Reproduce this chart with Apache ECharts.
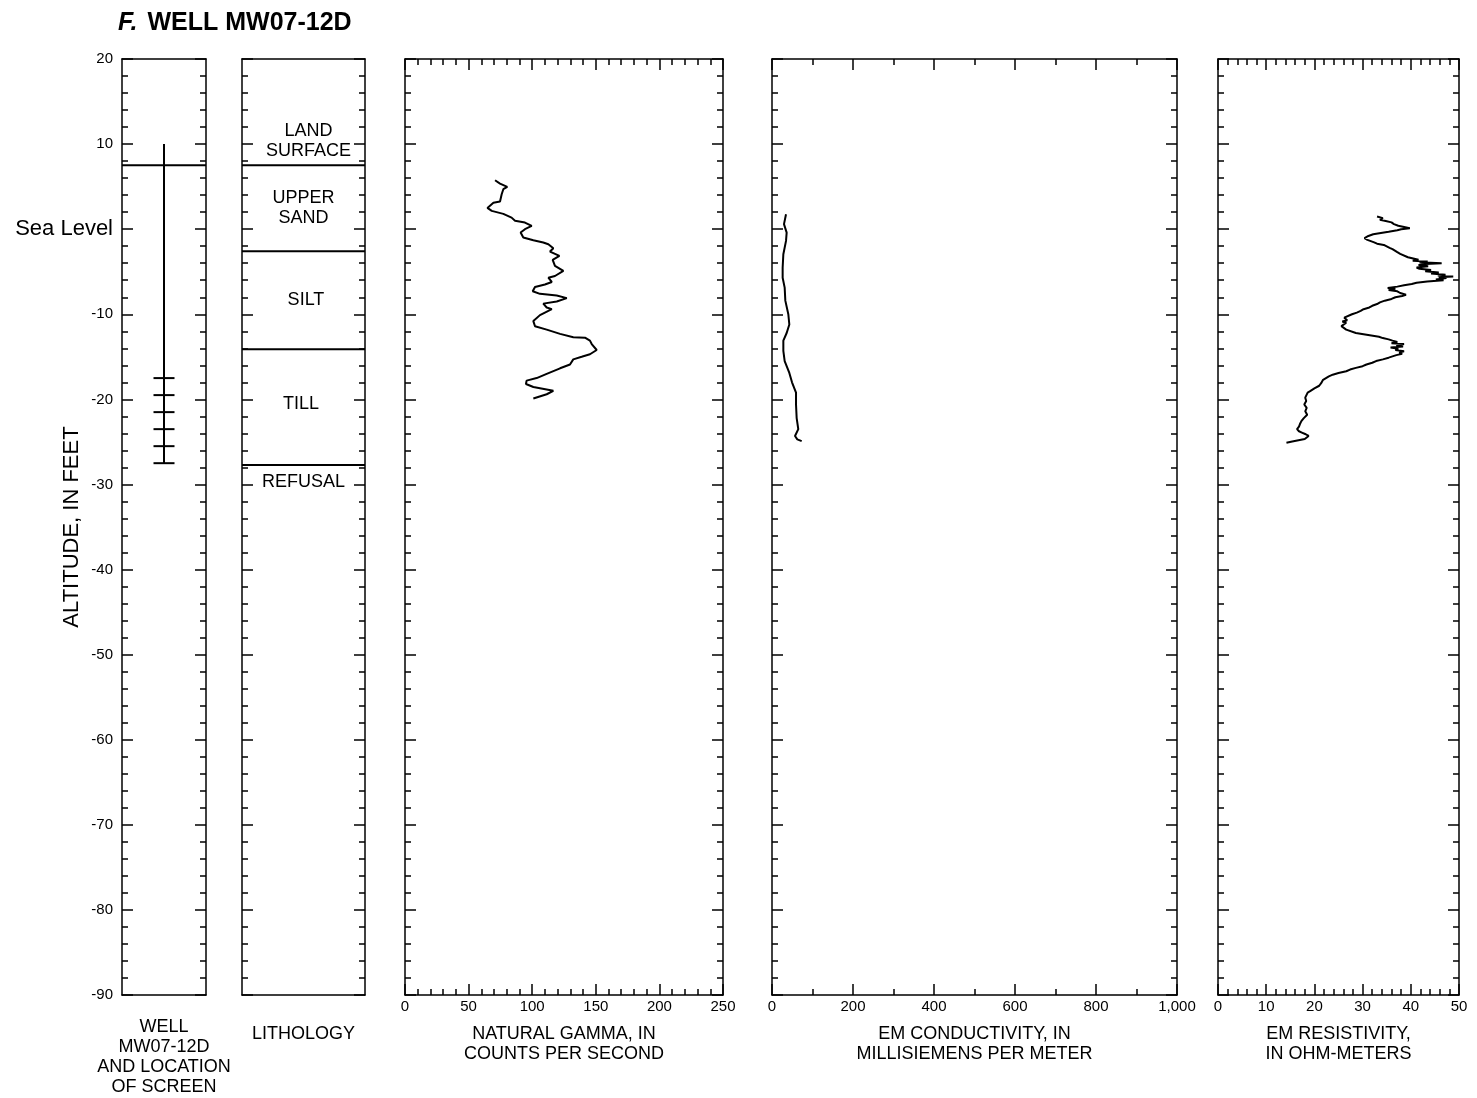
<!DOCTYPE html>
<html>
<head>
<meta charset="utf-8">
<script src="https://cdn.jsdelivr.net/npm/echarts@6/dist/echarts.min.js"></script>
<style>
  html, body { margin: 0; background: #fff; }
  #chart { width: 1477px; height: 1098px; }
</style>
</head>
<body>
<div id="chart"></div>
<script>
const FONT = 'Liberation Sans, Arial, sans-serif';

// altitude range (feet)
const altMin = -90;
const altMax = 20;

// well construction
const casingTop = 10;
const wellBottom = -27.5;
const landSurface = 7.5;
const screenMarks = [-17.5, -19.5, -21.5, -23.5, -25.5, -27.5];

// lithology
const lithBoundaries = [7.5, -2.6, -14.1, -27.7];
const lithNames = ['LAND\nSURFACE', 'UPPER\nSAND', 'SILT', 'TILL', 'REFUSAL'];
const lithLabelAlt = [10.4, 2.5, -8.3, -20.5, -29.7];
const lithLabelPos = [0.54, 0.5, 0.52, 0.48, 0.5];

// natural gamma, counts per second
const gammaAlt = [5.75, 5.36, 4.98, 4.7, 4.1, 3.25, 3.1, 2.5, 2.15, 1.8, 1.36, 0.98, 0.78, 0.39, 0, -0.4,
  -0.98, -1.3, -1.57, -1.77, -2.24, -2.63, -3.14, -3.6, -4.3, -4.9, -5.5, -5.7, -6.2, -6.5, -6.8, -7.3,
  -7.6, -7.8, -8.1, -8.5, -8.75, -9.2, -9.4, -9.8, -10.1, -10.8, -11.4, -11.8, -12.3, -12.7, -12.75,
  -13.1, -13.5, -14.2, -14.7, -15.0, -15.3, -15.9, -16.35, -17.0, -17.5, -17.8, -18.2, -18.55, -19.0,
  -19.4, -19.9];
const gammaCps = [70.8, 74.7, 80.4, 77.3, 76, 74.7, 69.5, 64.8, 68.2, 77.3, 83.8, 86.5, 94.3, 99.6, 94.3, 90.9,
  93, 100.9, 108.7, 112.7, 116.6, 114, 121.4, 116.1, 117.9, 124.5, 117.9, 112.7, 115.4, 110, 102.2, 100.4,
  106.1, 119.3, 127.2, 119.3, 108.7, 111.4, 115.4, 110, 106.1, 100.9, 102.2, 111.4, 121.9, 132.3, 141.5,
  145.4, 146.8, 150.7, 145.4, 138.9, 132.3, 129.7, 121.9, 111.4, 103.5, 95.6, 95.1, 100.9, 116.6,
  111.4, 100.9];

// EM conductivity, millisiemens per meter
const condAlt = [1.76, 0.59, -0.4, -1.38, -2.94, -4.5, -5.7, -6.87, -8.4, -10, -11.2, -12.2, -13.1, -14.3,
  -15.5, -16.9, -18.0, -19.2, -20.6, -22.2, -23.5, -24.3, -24.7, -24.9];
const condMsm = [34.6, 29.6, 36.2, 34.6, 28, 26.3, 26.3, 31.3, 32.9, 40.3, 42.8, 36.2, 28, 28,
  31.3, 42.8, 49.4, 59.3, 59.3, 60.9, 64.9, 56.8, 62.5, 73.3];

// EM resistivity, ohm-meters
const resAlt = [1.5, 1.3, 1.1, 0.95, 0.8, 0.6, 0.4, 0.25, 0.1, 0.0, -0.12, -0.3, -0.45, -0.6, -0.8, -1.05,
  -1.25, -1.4, -1.55, -1.7, -1.85, -2.0, -2.2, -2.35, -2.5, -2.7, -2.9, -3.1, -3.3, -3.45, -3.6, -3.7,
  -3.8, -3.9, -4.0, -4.1, -4.2, -4.35, -4.5, -4.65, -4.8, -4.95, -5.1, -5.2, -5.35, -5.45, -5.55, -5.65,
  -5.75, -5.9, -6.0, -6.15, -6.3, -6.45, -6.6, -6.75, -6.9, -7.0, -7.15, -7.3, -7.5, -7.7, -7.85, -8.0,
  -8.2, -8.4, -8.6, -8.8, -9.0, -9.2, -9.4, -9.6, -9.8, -10.0, -10.2, -10.4, -10.55, -10.7, -10.85, -11.0,
  -11.2, -11.4, -11.6, -11.8, -12.0, -12.2, -12.35, -12.5, -12.65, -12.8, -12.95, -13.1, -13.25, -13.4,
  -13.5, -13.65, -13.8, -13.9, -14.05, -14.2, -14.35, -14.5, -14.65, -14.8, -14.95, -15.1, -15.3, -15.5,
  -15.7, -15.9, -16.1, -16.3, -16.5, -16.7, -16.9, -17.1, -17.3, -17.5, -17.7, -17.9, -18.1, -18.4,
  -18.7, -19.0, -19.2, -19.4, -19.8, -20.2, -20.6, -21.0, -21.4, -21.8, -22.2, -22.55, -22.9, -23.2,
  -23.5, -23.75, -23.9, -24.1, -24.3, -24.5, -24.65, -24.8, -24.95, -25.1];
const resOhm = [33.0, 34.2, 33.6, 34.8, 36.0, 36.5, 37.4, 38.6, 39.8, 38.0, 37.2, 35.4, 33.8, 32.2, 31.2, 30.4,
  31.0, 30.8, 32.4, 33.0, 34.4, 34.0, 35.6, 36.2, 35.8, 37.2, 37.8, 38.2, 39.4, 39.8, 41.6, 40.4,
  43.5, 41.8, 46.4, 43.0, 41.6, 43.6, 41.2, 41.8, 44.2, 43.0, 45.8, 44.2, 47.2, 45.6, 48.8, 45.8,
  47.4, 45.2, 46.8, 43.4, 41.2, 40.2, 38.6, 37.2, 35.2, 36.8, 35.4, 37.2, 37.8, 39.0, 38.2, 36.8,
  36.0, 34.6, 33.6, 33.0, 32.0, 31.4, 30.2, 29.6, 28.8, 27.8, 27.4, 26.2, 26.0, 26.8, 25.8, 26.6,
  26.8, 25.6, 25.8, 26.6, 27.0, 28.6, 30.2, 31.8, 33.4, 34.2, 35.4, 36.2, 37.2, 36.0,
  38.6, 37.0, 38.4, 35.8, 37.4, 36.8, 38.6, 37.6, 38.2, 37.0, 36.2, 35.4, 34.2, 32.8,
  32.0, 30.8, 30.0, 28.6, 27.4, 26.6, 25.0, 23.8, 23.0, 22.4, 21.8, 21.4, 21.4, 21.0,
  20.0, 19.2, 18.6, 18.2, 18.1, 18.3, 17.9, 18.4, 18.1, 18.5, 17.8, 17.3, 17.0, 16.8,
  16.4, 16.8, 17.4, 18.2, 18.8, 19.1, 18.0, 16.7, 15.4, 14.2];

// panels: left, width (px) and x scale
const panels = [
  { left: 122, width: 84, min: 0, max: 1, interval: null, minor: 0,
    name: 'WELL\nMW07-12D\nAND LOCATION\nOF SCREEN', gap: 22 },
  { left: 242, width: 123, min: 0, max: 1, interval: null, minor: 0, name: 'LITHOLOGY', gap: 29 },
  { left: 405, width: 318, min: 0, max: 250, interval: 50, minor: 5,
    name: 'NATURAL GAMMA, IN\nCOUNTS PER SECOND', gap: 29 },
  { left: 772, width: 405, min: 0, max: 1000, interval: 200, minor: 2,
    name: 'EM CONDUCTIVITY, IN\nMILLISIEMENS PER METER', gap: 29 },
  { left: 1218, width: 241, min: 0, max: 50, interval: 10, minor: 5,
    name: 'EM RESISTIVITY,\nIN OHM-METERS', gap: 29 },
];

const black = { color: '#000', width: 1.5 };

function xAxisFor(p, i, top) {
  const scaled = p.interval != null;
  return {
    type: 'value', gridIndex: i, position: top ? 'top' : 'bottom',
    min: p.min, max: p.max, interval: scaled ? p.interval : undefined,
    axisLine: { show: true, onZero: false, lineStyle: black },
    axisTick: { show: scaled, inside: true, length: 11, lineStyle: black },
    minorTick: { show: scaled, splitNumber: p.minor, length: 6, lineStyle: black },
    axisLabel: {
      show: scaled && !top, margin: 4, color: '#000', fontFamily: FONT, fontSize: 15,
      showMinLabel: true, showMaxLabel: true,
      formatter: v => v.toLocaleString('en-US'),
    },
    splitLine: { show: false },
    name: top ? '' : p.name,
    nameLocation: 'middle', nameGap: p.gap, nameMoveOverlap: false,
    nameTextStyle: { color: '#000', fontFamily: FONT, fontSize: 18, lineHeight: 20 },
  };
}

function yAxisFor(i, right) {
  const labelled = i === 0 && !right;
  return {
    type: 'value', gridIndex: i, position: right ? 'right' : 'left',
    min: altMin, max: altMax, interval: 10,
    axisLine: { show: true, onZero: false, lineStyle: black },
    axisTick: { show: true, inside: true, length: 11, lineStyle: black },
    minorTick: { show: true, splitNumber: 5, length: 6, lineStyle: black },
    axisLabel: {
      show: labelled, margin: 9, color: '#000', fontFamily: FONT, fontSize: 15,
      showMinLabel: true, showMaxLabel: true,
      formatter: v => (v === 0 ? '{sea|Sea Level}' : String(v)),
      rich: { sea: { fontFamily: FONT, fontSize: 22, color: '#000' } },
    },
    splitLine: { show: false },
    name: labelled ? 'ALTITUDE, IN FEET' : '',
    nameLocation: 'middle', nameRotate: 90, nameGap: 39, nameMoveOverlap: false,
    nameTextStyle: { color: '#000', fontFamily: FONT, fontSize: 22 },
  };
}

const grids = panels.map(p => ({
  left: p.left, width: p.width, top: 59, height: 936, outerBoundsMode: 'none',
}));

const xAxes = [];
const yAxes = [];
panels.forEach((p, i) => {
  xAxes.push(xAxisFor(p, i, false), xAxisFor(p, i, true));
  yAxes.push(yAxisFor(i, false), yAxisFor(i, true));
});

function line(i, data, width) {
  return {
    type: 'line', xAxisIndex: 2 * i, yAxisIndex: 2 * i, data,
    showSymbol: false, symbol: 'none', silent: true, animation: false,
    lineStyle: { color: '#000', width: width || 2 },
  };
}

const zip = (xs, ys) => xs.map((x, k) => [x, ys[k]]);

const series = [
  // well: casing, land surface line, screen marks
  line(0, [[0.5, casingTop], [0.5, wellBottom]], 2),
  line(0, [[0, landSurface], [1, landSurface]], 2),
  ...screenMarks.map(a => line(0, [[0.375, a], [0.625, a]], 2)),
  // lithology boundaries
  ...lithBoundaries.map(a => line(1, [[0, a], [1, a]], 2)),
  {
    type: 'scatter', xAxisIndex: 2, yAxisIndex: 2, symbolSize: 0, silent: true,
    itemStyle: { opacity: 1, color: '#000' },
    data: lithNames.map((n, k) => ({ value: [lithLabelPos[k], lithLabelAlt[k]], name: n })),
    label: {
      show: true, position: 'inside', formatter: d => d.name, opacity: 1,
      color: '#000', textBorderWidth: 0, fontFamily: FONT, fontSize: 18, lineHeight: 20, align: 'center',
    },
  },
  line(2, zip(gammaCps, gammaAlt)),
  line(3, zip(condMsm, condAlt)),
  line(4, zip(resOhm, resAlt)),
];

const chart = echarts.init(document.getElementById('chart'));
chart.setOption({
  animation: false,
  backgroundColor: '#fff',
  title: {
    left: 113, top: 6,
    text: '{i|F.}  {b|WELL MW07-12D}',
    textStyle: {
      rich: {
        i: { fontFamily: FONT, fontSize: 25, fontWeight: 'bold', fontStyle: 'italic', color: '#000' },
        b: { fontFamily: FONT, fontSize: 25, fontWeight: 'bold', color: '#000' },
      },
    },
  },
  grid: grids,
  xAxis: xAxes,
  yAxis: yAxes,
  series,
});
</script>
</body>
</html>
